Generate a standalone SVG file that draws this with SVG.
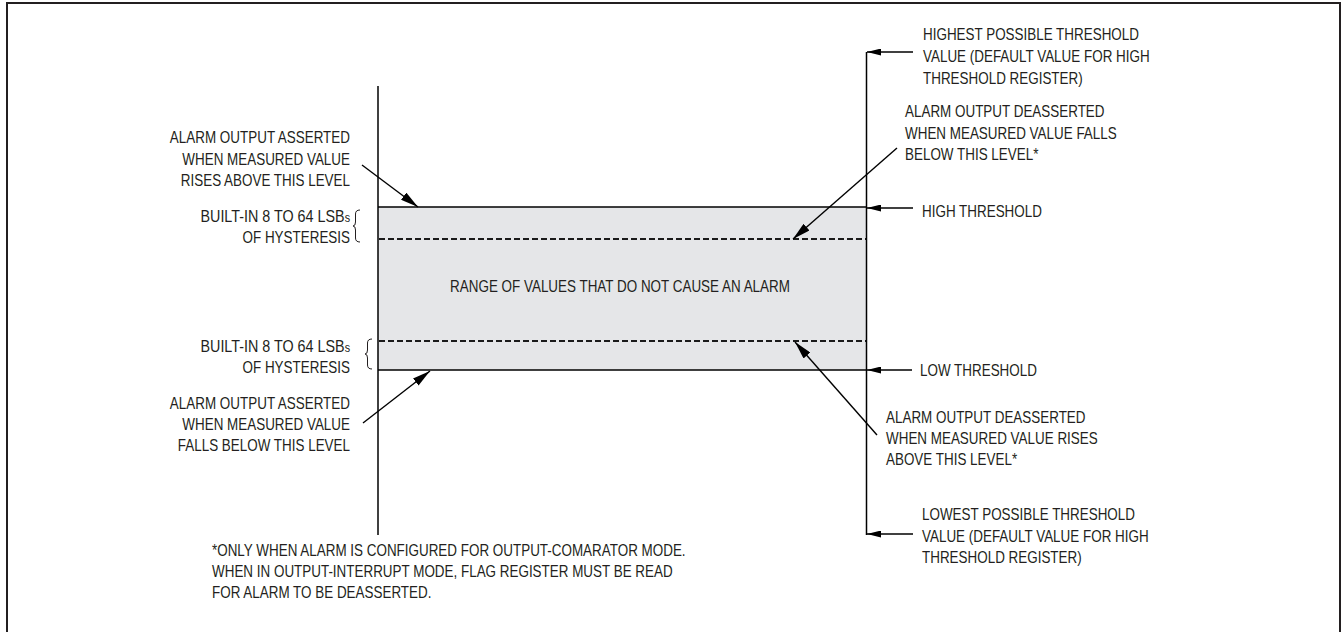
<svg xmlns="http://www.w3.org/2000/svg" width="1342" height="632" viewBox="0 0 1342 632">
<defs>
<style>
text{font-family:"Liberation Sans",Arial,sans-serif;font-size:16px;fill:#231f20}
.e{text-anchor:end}
.m{text-anchor:middle}
.ln{stroke:#000;stroke-width:1.5;fill:none}
.dash{stroke:#1a1a1a;stroke-width:2.2;stroke-dasharray:6,3;fill:none}
.ar{stroke:#000;stroke-width:1.4;fill:none}
.br{stroke:#231f20;stroke-width:1;fill:none}
</style>
<marker id="ah" viewBox="0 0 14 7" refX="14" refY="3.5" markerWidth="14" markerHeight="7" markerUnits="userSpaceOnUse" orient="auto"><path d="M0,0 L14,3.5 L0,7 Z" fill="#000"/></marker>
<marker id="ad" viewBox="0 0 18 9" refX="18" refY="4.5" markerWidth="18" markerHeight="9" markerUnits="userSpaceOnUse" orient="auto"><path d="M0,0 L18,4.5 L0,9 Z" fill="#000"/></marker>
</defs>
<rect x="0" y="0" width="1342" height="632" fill="#fff"/>
<rect id="frame" x="7" y="3" width="1333" height="634" fill="none" stroke="#231f20" stroke-width="2"/>

<g id="band">
<rect x="378" y="207" width="488" height="163" fill="#e5e6e8"/>
<line class="ln" x1="378" y1="207" x2="866" y2="207"/>
<line class="ln" x1="378" y1="370" x2="866" y2="370"/>
<line class="dash" x1="379" y1="239" x2="866" y2="239"/>
<line class="dash" x1="379" y1="341" x2="866" y2="341"/>
<text class="m" transform="translate(620,292) scale(0.84,1)">RANGE OF VALUES THAT DO NOT CAUSE AN ALARM</text>
</g>

<g id="axes">
<line class="ln" x1="378" y1="86" x2="378" y2="535"/>
<line class="ln" x1="866.5" y1="52" x2="866.5" y2="535"/>
</g>

<g id="connectors">
<line class="ar" x1="362" y1="165" x2="418" y2="207" marker-end="url(#ad)"/>
<line class="ar" x1="363" y1="423" x2="430" y2="371" marker-end="url(#ad)"/>
<line class="ar" x1="897" y1="148" x2="793" y2="239" marker-end="url(#ad)"/>
<line class="ar" x1="877" y1="435" x2="795" y2="342" marker-end="url(#ad)"/>
<line class="ar" x1="913" y1="52" x2="867" y2="52" marker-end="url(#ah)"/>
<line class="ar" x1="913" y1="208" x2="867" y2="208" marker-end="url(#ah)"/>
<line class="ar" x1="912" y1="370" x2="867" y2="370" marker-end="url(#ah)"/>
<line class="ar" x1="913" y1="534" x2="867" y2="534" marker-end="url(#ah)"/>
</g>

<g id="asserted-high">
<text class="e" transform="translate(350,143) scale(0.84,1)">ALARM OUTPUT ASSERTED</text>
<text class="e" transform="translate(350,164.5) scale(0.84,1)">WHEN MEASURED VALUE</text>
<text class="e" transform="translate(350,186) scale(0.84,1)">RISES ABOVE THIS LEVEL</text>
</g>

<g id="hyst-high">
<text class="e" transform="translate(350,222) scale(0.84,1)" textLength="178" lengthAdjust="spacingAndGlyphs">BUILT-IN 8 TO 64 LSB<tspan font-size="12">s</tspan></text>
<text class="e" transform="translate(350,243) scale(0.84,1)">OF HYSTERESIS</text>
<path class="br" d="M360,210 Q355.5,210 355.5,214 L355.5,222 Q355.5,226 353,226 Q355.5,226 355.5,230 L355.5,238 Q355.5,242 360,242"/>
</g>

<g id="hyst-low">
<text class="e" transform="translate(350,352) scale(0.84,1)" textLength="178" lengthAdjust="spacingAndGlyphs">BUILT-IN 8 TO 64 LSB<tspan font-size="12">s</tspan></text>
<text class="e" transform="translate(350,372.5) scale(0.84,1)">OF HYSTERESIS</text>
<path class="br" d="M372,339 Q367.5,339 367.5,343 L367.5,350 Q367.5,354 365,354 Q367.5,354 367.5,358 L367.5,365 Q367.5,369 372,369"/>
</g>

<g id="asserted-low">
<text class="e" transform="translate(350,409) scale(0.84,1)">ALARM OUTPUT ASSERTED</text>
<text class="e" transform="translate(350,430) scale(0.84,1)">WHEN MEASURED VALUE</text>
<text class="e" transform="translate(350,451) scale(0.84,1)">FALLS BELOW THIS LEVEL</text>
</g>

<g id="highest">
<text transform="translate(923,40) scale(0.84,1)">HIGHEST POSSIBLE THRESHOLD</text>
<text transform="translate(923,62) scale(0.84,1)">VALUE (DEFAULT VALUE FOR HIGH</text>
<text transform="translate(923,84) scale(0.84,1)">THRESHOLD REGISTER)</text>
</g>

<g id="deasserted-high">
<text transform="translate(905,117) scale(0.84,1)">ALARM OUTPUT DEASSERTED</text>
<text transform="translate(905,138.5) scale(0.84,1)">WHEN MEASURED VALUE FALLS</text>
<text transform="translate(905,160) scale(0.84,1)">BELOW THIS LEVEL*</text>
</g>

<g id="high-threshold">
<text transform="translate(922,216.5) scale(0.84,1)">HIGH THRESHOLD</text>
</g>

<g id="low-threshold">
<text transform="translate(920,376) scale(0.84,1)">LOW THRESHOLD</text>
</g>

<g id="deasserted-low">
<text transform="translate(886,422.5) scale(0.84,1)">ALARM OUTPUT DEASSERTED</text>
<text transform="translate(886,443.5) scale(0.84,1)">WHEN MEASURED VALUE RISES</text>
<text transform="translate(886,465) scale(0.84,1)">ABOVE THIS LEVEL*</text>
</g>

<g id="lowest">
<text transform="translate(922,520) scale(0.84,1)">LOWEST POSSIBLE THRESHOLD</text>
<text transform="translate(922,541.5) scale(0.84,1)">VALUE (DEFAULT VALUE FOR HIGH</text>
<text transform="translate(922,563) scale(0.84,1)">THRESHOLD REGISTER)</text>
</g>

<g id="footnote">
<text transform="translate(212,555.5) scale(0.84,1)">*ONLY WHEN ALARM IS CONFIGURED FOR OUTPUT-COMARATOR MODE.</text>
<text transform="translate(212,576.5) scale(0.84,1)">WHEN IN OUTPUT-INTERRUPT MODE, FLAG REGISTER MUST BE READ</text>
<text transform="translate(212,597.5) scale(0.84,1)">FOR ALARM TO BE DEASSERTED.</text>
</g>
</svg>
